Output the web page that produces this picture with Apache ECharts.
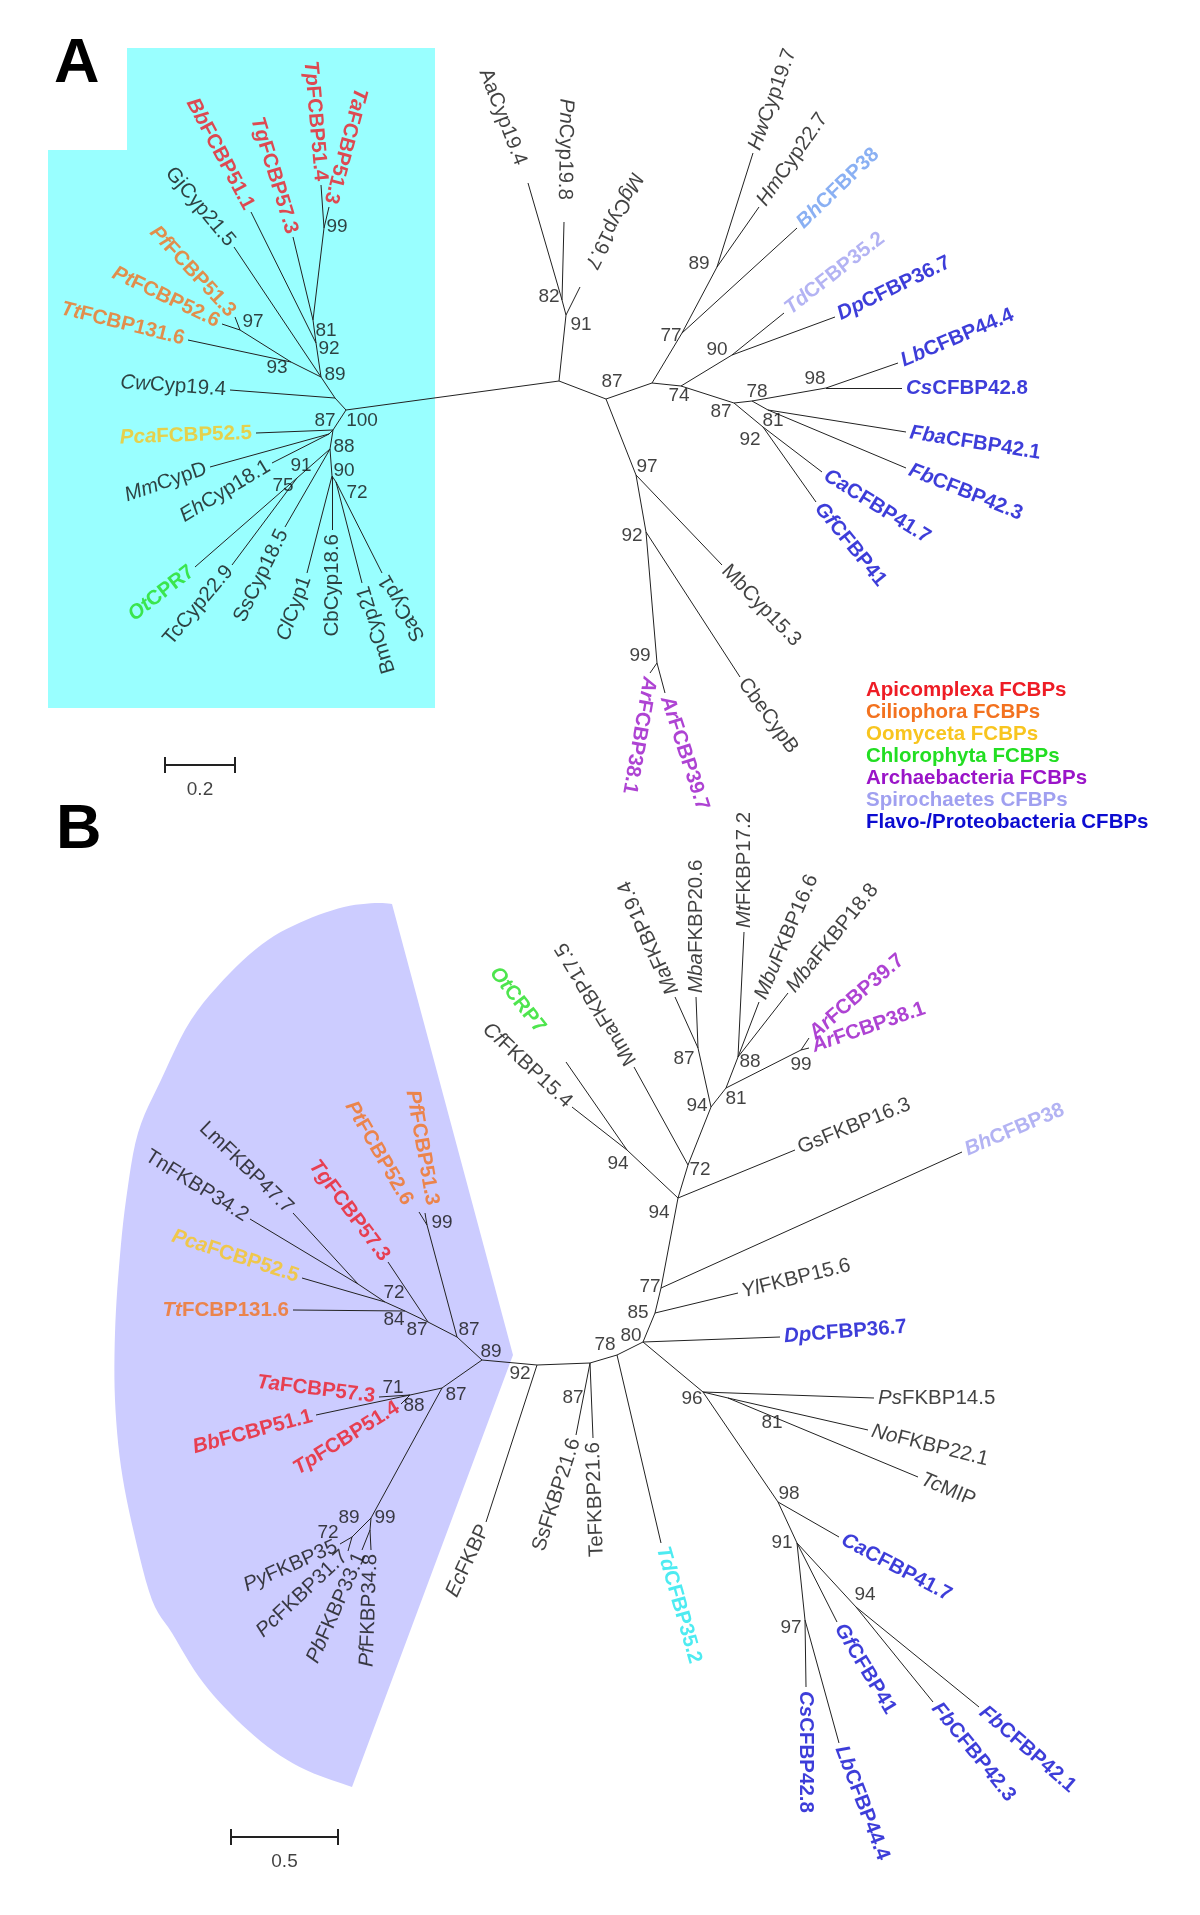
<!DOCTYPE html>
<html><head><meta charset="utf-8">
<script src="https://cdn.jsdelivr.net/npm/echarts@6/dist/echarts.min.js"></script>
<style>html,body{margin:0;padding:0;background:#fff}#chart{width:1200px;height:1915px}</style>
</head><body><div id="chart"></div>
<script>
// ---------------- DATA ----------------
// Panel A internal nodes: [id, x, y, parent]
const internalA = [
 ['a100',346,410,null],['acw',335,398,'a100'],['a89',321,377,'acw'],['a92',316,343,'a89'],
 ['a81',313,320,'a92'],['a99',324,228,'a81'],['a93',291,362,'a89'],['a97',240,330,'a93'],
 ['a87',333,430,'a100'],['a91',329,434,'a87'],['a88',330,449,'a87'],['a75',297,478,'a88'],
 ['a90',332,476,'a88'],['a72',336,482,'a90'],
 ['ac',559,381,'a100'],['a91r',566,315,'ac'],['a82',562,300,'a91r'],['a87r',606,399,'ac'],
 ['ab',652,383,'a87r'],['a77',682,333,'ab'],['a89r',717,267,'a77'],['a74',681,386,'ab'],
 ['a90r',732,355,'a74'],['a87b',734,403,'a74'],['a78',752,401,'a87b'],['a81r',768,410,'a78'],
 ['a98',826,388,'a78'],['a92r',763,427,'a87b'],['a97r',636,475,'a87r'],['a92b',646,532,'a97r'],
 ['a99r',657,663,'a92b']
];
// Panel A leaves: [name, x, y, parent, group]
const leavesA = [
 ['TaFCBP51.3',329,207,'a99','api'],['TpFCBP51.4',321,185,'a99','api'],['TgFCBP57.3',293,237,'a81','api'],
 ['BbFCBP51.1',251,212,'a92','api'],['GjCyp21.5',234,247,'a89','none'],['PfFCBP51.3',235,317,'a97','cil'],
 ['PtFCBP52.6',222,324,'a97','cil'],['TtFCBP131.6',188,340,'a93','cil'],['CwCyp19.4',230,390,'acw','none'],
 ['PcaFCBP52.5',256,433,'a87','oom'],['MmCypD',210,467,'a91','none'],['EhCyp18.1',272,463,'a91','none'],
 ['OtCPR7',195,567,'a75','chl'],['TcCyp22.9',232,565,'a75','none'],['SsCyp18.5',285,527,'a88','none'],
 ['ClCyp1',307,573,'a90','none'],['CbCyp18.6',332,530,'a90','none'],['BmCyp21',362,583,'a72','none'],
 ['SaCyp1',382,573,'a72','none'],['AaCyp19.4',528,183,'a82','none'],['PnCyp19.8',564,222,'a82','none'],
 ['MgCyp19.7',580,287,'a91r','none'],['HwCyp19.7',753,153,'a89r','none'],['HmCyp22.7',759,207,'a89r','none'],
 ['BhCFBP38',797,228,'a77','spiA'],['TdCFBP35.2',784,313,'a90r','spi'],['DpCFBP36.7',835,317,'a90r','fla'],
 ['LbCFBP44.4',898,363,'a98','fla'],['CsCFBP42.8',902,388,'a98','fla'],['FbaCFBP42.1',906,432,'a81r','fla'],
 ['FbCFBP42.3',906,468,'a81r','fla'],['CaCFBP41.7',822,472,'a92r','fla'],['GfCFBP41',816,502,'a92r','fla'],
 ['MbCyp15.3',722,565,'a97r','none'],['CbeCypB',740,677,'a92b','none'],
 ['ArFCBP39.7',665,693,'a99r','arc'],['ArFCBP38.1',650,673,'a99r','arc']
];
// Panel A bootstrap values: [value, x, y]
const bootA = [
 [99,337,227],[81,326,331],[92,329,349],[89,335,375],[97,253,322],[93,277,368],
 [87,325,421],[100,362,421],[88,344,447],[91,301,466],[90,344,471],[75,283,486],[72,357,493],
 [82,549,297],[91,581,325],[87,612,382],[89,699,264],[77,671,336],[90,717,350],[74,679,396],
 [78,757,392],[98,815,379],[87,721,412],[81,773,421],[92,750,440],[97,647,467],[92,632,536],[99,640,656]
];

// Panel B internal nodes
const internalB = [
 ['bhub',482,1360,null],['b87a',457,1337,'bhub'],['b99pf',427,1225,'b87a'],['b87c',428,1322,'b87a'],
 ['b84',405,1311,'b87c'],['b72',385,1302,'b84'],['btl',358,1284,'b72'],['b87d',442,1388,'bhub'],
 ['b88',410,1395,'b87d'],['b89p',371,1518,'b87d'],['b99p',370,1530,'b89p'],['b72p',352,1537,'b89p'],
 ['b92',537,1365,'bhub'],['b87st',590,1363,'b92'],['b78',617,1355,'b87st'],['b80',643,1342,'b78'],
 ['b85',655,1313,'b80'],['b77',661,1288,'b85'],['b94',678,1198,'b77'],['b94c',627,1150,'b94'],
 ['b72m',688,1165,'b94'],['b94m',711,1107,'b72m'],['b87m',698,1048,'b94m'],['b81m',726,1088,'b94m'],
 ['b88m',738,1057,'b81m'],['b99ar',801,1050,'b81m'],['b96',703,1392,'b80'],['b81b',728,1398,'b96'],
 ['b98',778,1502,'b96'],['b91',797,1543,'b98'],['b97',805,1620,'b91'],['b94f',856,1607,'b91']
];
const leavesB = [
 ['PfFCBP51.3',425,1213,'b99pf','cil'],['PtFCBP52.6',419,1212,'b99pf','cil'],['TgFCBP57.3',388,1262,'b87c','api'],
 ['LmFKBP47.7',293,1213,'btl','none'],['TnFKBP34.2',250,1219,'btl','none'],['PcaFCBP52.5',302,1278,'b72','oom'],
 ['TtFCBP131.6',293,1310,'b84','cil'],['TaFCBP57.3',379,1397,'b88','api'],['BbFCBP51.1',316,1415,'b88','api'],
 ['TpFCBP51.4',401,1404,'b88','api'],['PyFKBP35',340,1544,'b72p','none'],['PcFKBP31.7',348,1551,'b72p','none'],
 ['PbFKBP33.1',362,1550,'b99p','none'],['PfFKBP34.8',371,1550,'b99p','none'],['EcFKBP',486,1522,'b92','none'],
 ['SsFKBP21.6',576,1435,'b87st','none'],['TeFKBP21.6',593,1438,'b87st','none'],['TdCFBP35.2',661,1543,'b78','spiC'],
 ['DpCFBP36.7',780,1337,'b80','fla'],['YlFKBP15.6',738,1293,'b85','none'],['BhCFBP38',962,1152,'b77','spi'],
 ['GsFKBP16.3',795,1150,'b94','none'],['OtCRP7',566,1062,'b94c','chl'],['CfFKBP15.4',572,1107,'b94c','none'],
 ['MmaFKBP17.5',634,1067,'b72m','none'],['MaFKBP19.4',675,997,'b87m','none'],['MbaFKBP20.6',696,997,'b87m','none'],
 ['MtFKBP17.2',744,932,'b88m','none'],['MbuFKBP16.6',759,1002,'b88m','none'],['MbaFKBP18.8',788,993,'b88m','none'],
 ['ArFCBP39.7',809,1038,'b99ar','arc'],['ArFCBP38.1',809,1048,'b99ar','arc'],['PsFKBP14.5',874,1398,'b96','none'],
 ['NoFKBP22.1',868,1430,'b81b','none'],['TcMIP',918,1477,'b81b','none'],['CaCFBP41.7',839,1537,'b98','fla'],
 ['GfCFBP41',837,1622,'b91','fla'],['CsCFBP42.8',806,1687,'b97','fla'],['LbCFBP44.4',839,1743,'b97','fla'],
 ['FbCFBP42.3',933,1702,'b94f','fla'],['FbCFBP42.1',979,1707,'b94f','fla']
];
const bootB = [
 [99,442,1223],[72,394,1293],[84,394,1320],[87,417,1330],[87,469,1330],[89,491,1352],[92,520,1374],
 [71,393,1388],[88,414,1406],[87,456,1395],[87,573,1398],[89,349,1518],[99,385,1518],[72,328,1533],
 [94,659,1213],[77,650,1287],[85,638,1313],[80,631,1336],[78,605,1345],[96,692,1399],[81,772,1423],
 [98,789,1494],[91,782,1543],[94,865,1595],[97,791,1628],
 [94,618,1164],[72,700,1170],[94,697,1106],[81,736,1099],[87,684,1059],[88,750,1062],[99,801,1065]
];

// Legend groups
const groupKeys = ['api','cil','oom','chl','arc','spi','fla'];
const groupNames = ['Apicomplexa FCBPs','Ciliophora FCBPs','Oomyceta FCBPs','Chlorophyta FCBPs',
                    'Archaebacteria FCBPs','Spirochaetes CFBPs','Flavo-/Proteobacteria CFBPs'];

// Scale bar values (substitutions per site)
const scaleValues = [0.2, 0.5];

// ---------------- LAYOUT / STYLE ----------------
const COLORS = {api:'#ee1c25',cil:'#f3721f',oom:'#f8c51f',chl:'#22de22',arc:'#9a14c8',
  spi:'#a0a0f0',fla:'#0c0cd0',spiA:'#6d9cf0',spiC:'#20e6ee',none:'#111111'};
const FONT = 'Liberation Sans, Arial, Helvetica, sans-serif';
const FS_LEAF = 20.5, FS_BOOT = 19;
// label direction: [angle (deg, clockwise on screen), 's' = text starts at tip, 'e' = text ends at tip]
const dirA = {
 'TaFCBP51.3':[105,'e'],'TpFCBP51.4':[85,'e'],'TgFCBP57.3':[73,'e'],'BbFCBP51.1':[62,'e'],'GjCyp21.5':[50,'e'],
 'PfFCBP51.3':[47,'e'],'PtFCBP52.6':[25.5,'e'],'TtFCBP131.6':[14,'e'],'CwCyp19.4':[4,'e'],'PcaFCBP52.5':[-2,'e'],
 'MmCypD':[-19,'e'],'EhCyp18.1':[-31,'e'],'OtCPR7':[-38,'e'],'TcCyp22.9':[-50,'e'],'SsCyp18.5':[-64,'e'],
 'ClCyp1':[-70,'e'],'CbCyp18.6':[-90,'e'],'BmCyp21':[-107,'e'],'SaCyp1':[-120,'e'],'AaCyp19.4':[69,'e'],
 'PnCyp19.8':[91,'e'],'MgCyp19.7':[117,'e'],'HwCyp19.7':[-70,'s'],'HmCyp22.7':[-55,'s'],'BhCFBP38':[-44,'s'],
 'TdCFBP35.2':[-38,'s'],'DpCFBP36.7':[-26,'s'],'LbCFBP44.4':[-23,'s'],'CsCFBP42.8':[0,'s'],'FbaCFBP42.1':[9,'s'],
 'FbCFBP42.3':[22,'s'],'CaCFBP41.7':[32,'s'],'GfCFBP41':[51,'s'],'MbCyp15.3':[46,'s'],'CbeCypB':[54,'s'],
 'ArFCBP39.7':[72,'s'],'ArFCBP38.1':[100,'s']
};
const dirB = {
 'PfFCBP51.3':[80,'e'],'PtFCBP52.6':[60,'e'],'TgFCBP57.3':[53,'e'],'LmFKBP47.7':[44,'e'],'TnFKBP34.2':[32,'e'],
 'PcaFCBP52.5':[18,'e'],'TtFCBP131.6':[0,'e'],'TaFCBP57.3':[7,'e'],'BbFCBP51.1':[-15,'e'],'TpFCBP51.4':[-32,'e'],
 'PyFKBP35':[-24,'e'],'PcFKBP31.7':[-43,'e'],'PbFKBP33.1':[-66,'e'],'PfFKBP34.8':[-88,'e'],'EcFKBP':[-65,'e'],
 'SsFKBP21.6':[-72,'e'],'TeFKBP21.6':[-92,'e'],'TdCFBP35.2':[74,'s'],'DpCFBP36.7':[-4.5,'s'],'YlFKBP15.6':[-14,'s'],
 'BhCFBP38':[-23,'s'],'GsFKBP16.3':[-22,'s'],'OtCRP7':[52,'e'],'CfFKBP15.4':[43,'e'],'MmaFKBP17.5':[-121,'s'],
 'MaFKBP19.4':[-114,'s'],'MbaFKBP20.6':[-90,'s'],'MtFKBP17.2':[-90,'s'],'MbuFKBP16.6':[-67,'s'],
 'MbaFKBP18.8':[-51,'s'],'ArFCBP39.7':[-41,'s'],'ArFCBP38.1':[-19,'s'],'PsFKBP14.5':[0,'s'],'NoFKBP22.1':[14,'s'],
 'TcMIP':[23,'s'],'CaCFBP41.7':[28,'s'],'GfCFBP41':[59,'s'],'CsCFBP42.8':[90,'s'],'LbCFBP44.4':[69,'s'],
 'FbCFBP42.3':[51,'s'],'FbCFBP42.1':[41,'s']
};
const gapA = {'AaCyp19.4':20,'PnCyp19.8':22,'MgCyp19.7':22};
const gapB = {'OtCRP7':40};
const shiftB = {'PfFCBP51.3':[8,-4],'PtFCBP52.6':[-9,-5]};
const UPRIGHT = new Set(['GjCyp21.5','AaCyp19.4','SsCyp18.5','CbCyp18.6','BmCyp21','SaCyp1','MbCyp15.3','CbeCypB',
  'TcCyp22.9','LmFKBP47.7','TnFKBP34.2','SsFKBP21.6','TeFKBP21.6','GsFKBP16.3','MmaFKBP17.5']);

// shaded regions
const cyanBox = [[127,48],[435,48],[435,708],[48,708],[48,150],[127,150]];
const lavArc = [[392,904],[375,903],[344,907],[306,920],[268,940],[230,973],[191,1020],[161,1080],[138,1133],
  [126,1200],[119,1267],[115,1333],[115,1400],[121,1467],[134,1533],[152,1600],[172,1633],[199,1677],
  [230,1713],[268,1747],[306,1770],[352,1787]];
const lavApex = [513,1355];
const scaleLayout = [{x:165,y:765,ppu:350},{x:231,y:1837,ppu:214}];

// ---------------- BUILD ----------------
function catmull(pts, n){
  const out=[];
  for(let i=0;i<pts.length-1;i++){
    const p0=pts[Math.max(i-1,0)],p1=pts[i],p2=pts[i+1],p3=pts[Math.min(i+2,pts.length-1)];
    for(let t=0;t<n;t++){
      const s=t/n,s2=s*s,s3=s2*s;
      const f=(a,b,c,d)=>0.5*((2*b)+(-a+c)*s+(2*a-5*b+4*c-d)*s2+(-a+3*b-3*c+d)*s3);
      out.push([f(p0[0],p1[0],p2[0],p3[0]),f(p0[1],p1[1],p2[1],p3[1])]);
    }
  }
  out.push(pts[pts.length-1]);
  return out;
}
const lavPoly = catmull(lavArc,6).concat([lavApex]);

function edgesOf(internal, leaves){
  const pos={};
  internal.forEach(n=>pos[n[0]]=[n[1],n[2]]);
  const e=[];
  internal.forEach(n=>{ if(n[3]) e.push({coords:[pos[n[3]],[n[1],n[2]]]}); });
  leaves.forEach(l=>e.push({coords:[pos[l[3]],[l[1],l[2]]]}));
  return e;
}
function splitName(n){ const m=n.match(/^([A-Z][a-z]+)(.*)$/); return m?[m[1],m[2]]:['',n]; }
function leafItems(leaves, dir, gaps, shifts){
  return leaves.map(l=>{
    const [name,x,y,,grp]=l;
    const [ang,side]=dir[name]||[0,'s'];
    const gap=(gaps&&gaps[name])||4;
    const sh=(shifts&&shifts[name])||[0,0];
    const col=COLORS[grp];
    const base={fontSize:FS_LEAF,fontFamily:FONT,fontWeight:grp==='none'?'normal':'bold',color:col};
    const [pre,rest]=splitName(name);
    return {value:[x+sh[0],y+sh[1]],name,label:{show:true,position:'inside',rotate:-ang,
      align:side==='s'?'left':'right',verticalAlign:'middle',
      padding:side==='s'?[0,0,0,gap]:[0,gap,0,0],
      formatter:(pre?'{i|'+pre+'}':'')+'{n|'+rest+'}',
      rich:{i:Object.assign({},base,{fontStyle:UPRIGHT.has(name)?'normal':'italic'}),
            n:Object.assign({},base,{fontStyle:'normal'})}}};
  });
}
const edges = edgesOf(internalA,leavesA).concat(edgesOf(internalB,leavesB));
const leafData = leafItems(leavesA,dirA,gapA,null).concat(leafItems(leavesB,dirB,gapB,shiftB));
const bootData = bootA.concat(bootB).map(b=>({value:[b[1],b[2],b[0]]}));

const scaleLines=[], scaleLabels=[];
scaleValues.forEach((v,i)=>{
  const L=scaleLayout[i], len=v*L.ppu;
  scaleLines.push({coords:[[L.x,L.y],[L.x+len,L.y]]});
  scaleLines.push({coords:[[L.x,L.y-8],[L.x,L.y+8]]});
  scaleLines.push({coords:[[L.x+len,L.y-8],[L.x+len,L.y+8]]});
  scaleLabels.push({value:[L.x+len/2,L.y+25,String(v)]});
});

const graphics = [
  {type:'text',x:54,y:65,style:{text:'A',font:'bold 63px "Liberation Sans", Arial, sans-serif',fill:'#000',align:'left',verticalAlign:'middle'}},
  {type:'text',x:56,y:831,style:{text:'B',font:'bold 63px "Liberation Sans", Arial, sans-serif',fill:'#000',align:'left',verticalAlign:'middle'}}
];
groupNames.forEach((g,i)=>graphics.push({type:'text',x:866,y:690+i*22,
  style:{text:g,font:'bold 20.5px "Liberation Sans", Arial, sans-serif',fill:COLORS[groupKeys[i]],align:'left',verticalAlign:'middle'}}));

const chart = echarts.init(document.getElementById('chart'));
chart.setOption({
  animation:false,
  backgroundColor:'#ffffff',
  grid:{left:0,right:0,top:0,bottom:0},
  xAxis:{type:'value',min:0,max:1200,show:false},
  yAxis:{type:'value',min:0,max:1915,inverse:true,show:false},
  graphic:graphics,
  series:[
    {type:'custom',coordinateSystem:'cartesian2d',silent:true,z:0,data:[[0,0]],
     renderItem:(p,api)=>({type:'group',children:[
       {type:'polygon',shape:{points:cyanBox.map(q=>api.coord(q))},style:{fill:'#99ffff'}},
       {type:'polygon',shape:{points:lavPoly.map(q=>api.coord(q))},style:{fill:'#ccccff'}}
     ]})},
    {type:'lines',coordinateSystem:'cartesian2d',silent:true,z:2,
     lineStyle:{color:'#222222',width:1,opacity:1},data:edges},
    {type:'lines',coordinateSystem:'cartesian2d',silent:true,z:2,
     lineStyle:{color:'#222',width:2,opacity:1},data:scaleLines},
    {type:'scatter',silent:true,z:3,symbolSize:1,itemStyle:{color:'rgba(0,0,0,0)'},data:leafData},
    {type:'scatter',silent:true,z:3,symbolSize:1,itemStyle:{color:'rgba(0,0,0,0)'},data:bootData,
     label:{show:true,position:'inside',formatter:p=>p.value[2],fontSize:FS_BOOT,fontFamily:FONT,color:'#111'}},
    {type:'scatter',silent:true,z:3,symbolSize:1,itemStyle:{color:'rgba(0,0,0,0)'},data:scaleLabels,
     label:{show:true,position:'inside',formatter:p=>p.value[2],fontSize:FS_BOOT,fontFamily:FONT,color:'#111'}}
  ]
});
</script></body></html>
